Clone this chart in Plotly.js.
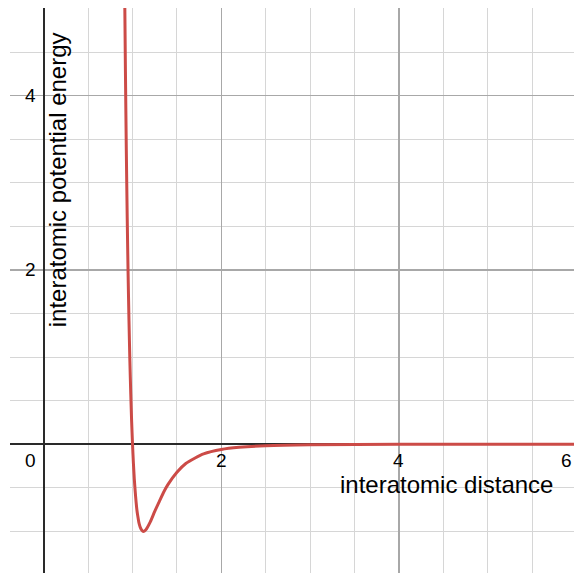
<!DOCTYPE html>
<html>
<head>
<meta charset="utf-8">
<script src="https://cdn.plot.ly/plotly-3.0.1.min.js"></script>
<style>html,body{margin:0;padding:0;background:#fff;}#chart{width:574px;height:573px;}</style>
</head>
<body>
<div id="chart"></div>
<script>
// interatomic distance
const distance = [0.91, 0.92, 0.93, 0.94, 0.95, 0.96, 0.97, 0.98, 0.99, 1.00, 1.01, 1.02, 1.03, 1.04, 1.05, 1.06, 1.07, 1.08, 1.09, 1.10, 1.12, 1.15, 1.20, 1.25, 1.30, 1.35, 1.40, 1.50, 1.60, 1.70, 1.80, 2.00, 2.20, 2.50, 3.00, 4.00, 5.00, 6.00];
// interatomic potential energy
const energy = [5.36, 4.28, 3.37, 2.61, 1.96, 1.42, 0.96, 0.58, 0.26, 0.00, -0.22, -0.40, -0.54, -0.66, -0.76, -0.83, -0.89, -0.93, -0.96, -0.98, -1.00, -0.98, -0.89, -0.77, -0.66, -0.55, -0.46, -0.32, -0.22, -0.16, -0.11, -0.06, -0.035, -0.016, -0.005, -0.001, 0.0, 0.0];
const xTickVals = [0, 2, 4, 6];
const xTickText = ["0", "2", "4", "6"];
const yTickVals = [2, 4];
const yTickText = ["2", "4"];
const xTitle = "interatomic distance";
const yTitle = "interatomic potential energy";

const FONT = 'Liberation Sans, Arial, Helvetica, sans-serif';
const annotations = [];
xTickVals.forEach((v, i) => {
  let ax = v, xanchor = 'center';
  if (v === 0) { xanchor = 'right'; ax = -0.08; }
  if (v === 6) { xanchor = 'right'; ax = 5.965; }
  annotations.push({x: ax, y: 0, xref: 'x', yref: 'y', text: xTickText[i], showarrow: false, borderpad: 0,
    xanchor: xanchor, yanchor: 'top', yshift: -5, font: {family: FONT, size: 19, color: '#000'}});
});
yTickVals.forEach((v, i) => {
  annotations.push({x: -0.08, y: v, xref: 'x', yref: 'y', text: yTickText[i], showarrow: false, borderpad: 0,
    xanchor: 'right', yanchor: 'middle', font: {family: FONT, size: 19, color: '#000'}});
});
annotations.push({x: 4.54, y: -0.46, xref: 'x', yref: 'y', text: xTitle, showarrow: false, borderpad: 0,
  xanchor: 'center', yanchor: 'middle', font: {family: FONT, size: 24, color: '#000'}});
annotations.push({x: 0.15, y: 3.03, xref: 'x', yref: 'y', text: yTitle, showarrow: false, textangle: -90, borderpad: 0,
  xanchor: 'center', yanchor: 'middle', font: {family: FONT, size: 24, color: '#000'}});

const trace = {x: distance, y: energy, mode: 'lines', type: 'scatter',
  line: {color: '#cc4b47', width: 3, shape: 'spline', smoothing: 0.6}, hoverinfo: 'skip'};

const layout = {
  width: 574, height: 573,
  margin: {l: 10, t: 8, r: 0, b: 0, pad: 0},
  paper_bgcolor: '#fff', plot_bgcolor: '#fff',
  showlegend: false,
  xaxis: {range: [-0.38, 5.972], dtick: 2, tick0: 0, showgrid: true, gridcolor: '#a8a8a8', gridwidth: 1.2,
    minor: {dtick: 0.5, tick0: 0, showgrid: true, gridcolor: '#d6d6d6', gridwidth: 1},
    showticklabels: false, ticks: '', zeroline: true, zerolinecolor: '#2a2a2a', zerolinewidth: 2, showline: false, fixedrange: true},
  yaxis: {range: [-1.477, 5.006], dtick: 2, tick0: 0, showgrid: true, gridcolor: '#a8a8a8', gridwidth: 1.2,
    minor: {dtick: 0.5, tick0: 0, showgrid: true, gridcolor: '#d6d6d6', gridwidth: 1},
    showticklabels: false, ticks: '', zeroline: true, zerolinecolor: '#2a2a2a', zerolinewidth: 2, showline: false, fixedrange: true},
  annotations: annotations
};
Plotly.newPlot('chart', [trace], layout, {staticPlot: true, displayModeBar: false});
</script>
</body>
</html>
